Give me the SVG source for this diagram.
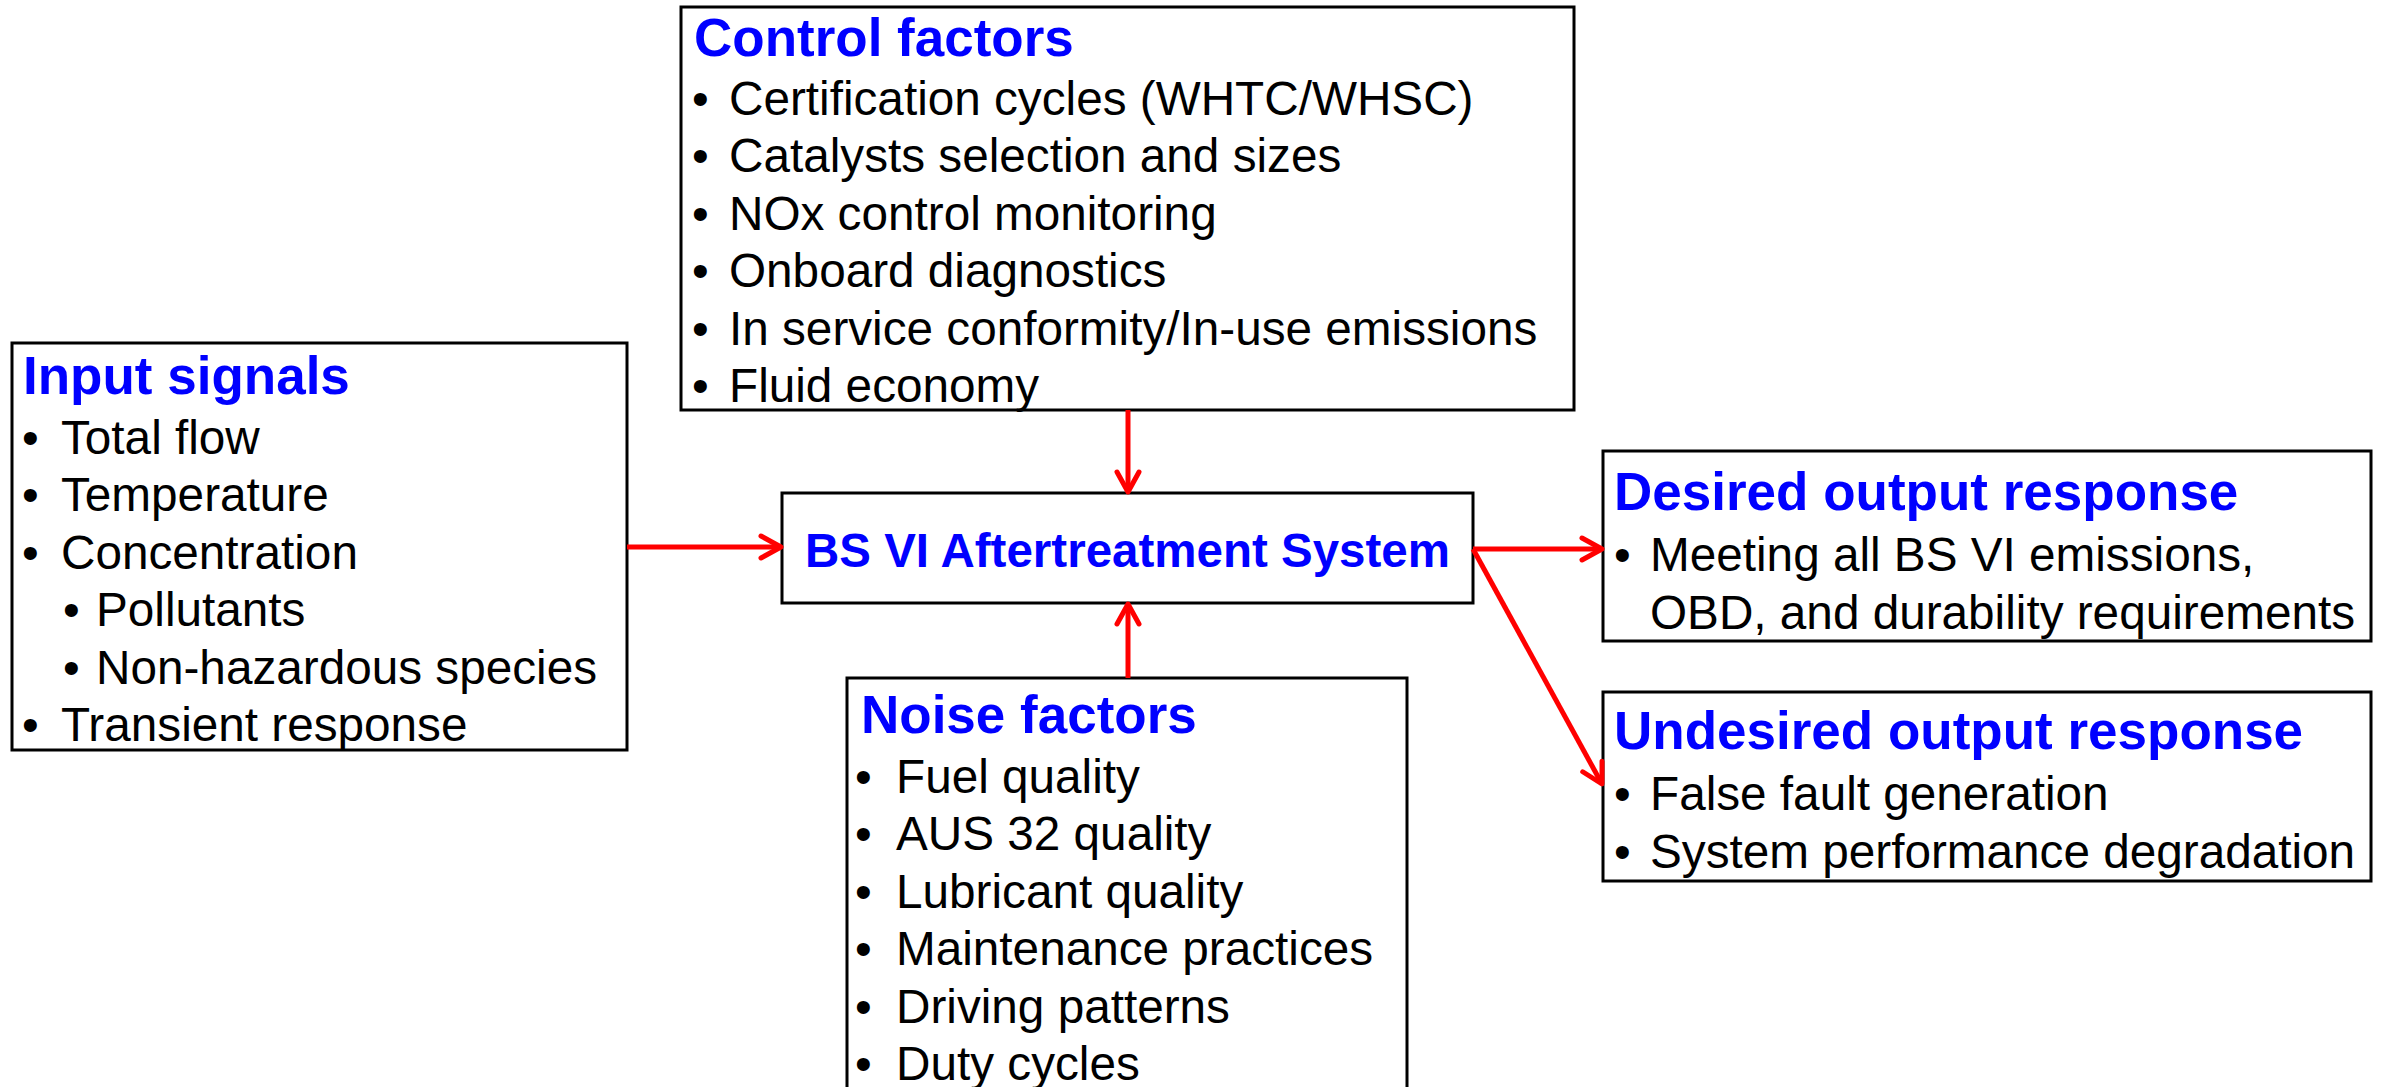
<svg xmlns="http://www.w3.org/2000/svg" width="2382" height="1087" viewBox="0 0 2382 1087">
<style>
.box{fill:#fff;stroke:#000;stroke-width:3}
.t{font-family:"Liberation Sans",Arial,sans-serif;font-weight:bold;font-size:53px;fill:#0000ff}
.b{font-family:"Liberation Sans",Arial,sans-serif;font-size:47.7px;fill:#000}
.c{font-family:"Liberation Sans",Arial,sans-serif;font-weight:bold;font-size:47.5px;fill:#0000ff}
.a{stroke:#ff0000;stroke-width:5;fill:none}
</style>
<defs>
<marker id="ah" markerUnits="userSpaceOnUse" viewBox="0 0 30 30" refX="25" refY="15" markerWidth="30" markerHeight="30" orient="auto">
<path d="M5,4 L25,15 L5,26" fill="none" stroke="#ff0000" stroke-width="5" stroke-linecap="round" stroke-linejoin="round"/>
</marker>
</defs>
<rect width="2382" height="1087" fill="#fff"/>
<g id="control">
<rect class="box" x="681" y="7" width="893" height="403"/>
<text class="t" x="694" y="56">Control factors</text>
<text class="b" x="692" y="115">•</text><text class="b" x="729" y="115">Certification cycles (WHTC/WHSC)</text>
<text class="b" x="692" y="172.4">•</text><text class="b" x="729" y="172.4">Catalysts selection and sizes</text>
<text class="b" x="692" y="229.8">•</text><text class="b" x="729" y="229.8">NOx control monitoring</text>
<text class="b" x="692" y="287.2">•</text><text class="b" x="729" y="287.2">Onboard diagnostics</text>
<text class="b" x="692" y="344.6">•</text><text class="b" x="729" y="344.6">In service conformity/In-use emissions</text>
<text class="b" x="692" y="402">•</text><text class="b" x="729" y="402">Fluid economy</text>
</g>
<g id="input">
<rect class="box" x="12" y="343" width="615" height="407"/>
<text class="t" x="23" y="394">Input signals</text>
<text class="b" x="22" y="454">•</text><text class="b" x="61" y="454">Total flow</text>
<text class="b" x="22" y="511.4">•</text><text class="b" x="61" y="511.4">Temperature</text>
<text class="b" x="22" y="568.8">•</text><text class="b" x="61" y="568.8">Concentration</text>
<text class="b" x="63" y="626.2">•</text><text class="b" x="96" y="626.2">Pollutants</text>
<text class="b" x="63" y="683.6">•</text><text class="b" x="96" y="683.6">Non-hazardous species</text>
<text class="b" x="22" y="741">•</text><text class="b" x="61" y="741">Transient response</text>
</g>
<g id="center">
<rect class="box" x="782" y="493" width="691" height="110"/>
<text class="c" x="805" y="567">BS VI Aftertreatment System</text>
</g>
<g id="noise">
<rect class="box" x="847" y="678" width="560" height="430"/>
<text class="t" x="861" y="733">Noise factors</text>
<text class="b" x="855" y="793">•</text><text class="b" x="896" y="793">Fuel quality</text>
<text class="b" x="855" y="850.4">•</text><text class="b" x="896" y="850.4">AUS 32 quality</text>
<text class="b" x="855" y="907.8">•</text><text class="b" x="896" y="907.8">Lubricant quality</text>
<text class="b" x="855" y="965.2">•</text><text class="b" x="896" y="965.2">Maintenance practices</text>
<text class="b" x="855" y="1022.6">•</text><text class="b" x="896" y="1022.6">Driving patterns</text>
<text class="b" x="855" y="1080">•</text><text class="b" x="896" y="1080">Duty cycles</text>
</g>
<g id="desired">
<rect class="box" x="1603" y="451" width="768" height="190"/>
<text class="t" x="1614" y="510">Desired output response</text>
<text class="b" x="1614" y="571">•</text><text class="b" x="1650" y="571">Meeting all BS VI emissions,</text>
<text class="b" x="1650" y="629">OBD, and durability requirements</text>
</g>
<g id="undesired">
<rect class="box" x="1603" y="692" width="768" height="189"/>
<text class="t" x="1614" y="749">Undesired output response</text>
<text class="b" x="1614" y="810">•</text><text class="b" x="1650" y="810">False fault generation</text>
<text class="b" x="1614" y="868">•</text><text class="b" x="1650" y="868">System performance degradation</text>
</g>
<g id="connectors">
<line class="a" x1="1128" y1="410" x2="1128" y2="492" marker-end="url(#ah)"/>
<line class="a" x1="1128" y1="678" x2="1128" y2="604" marker-end="url(#ah)"/>
<line class="a" x1="627" y1="547" x2="781" y2="547" marker-end="url(#ah)"/>
<line class="a" x1="1473" y1="549" x2="1602" y2="549" marker-end="url(#ah)"/>
<line class="a" x1="1473" y1="549" x2="1602" y2="784" marker-end="url(#ah)"/>
</g>
</svg>
